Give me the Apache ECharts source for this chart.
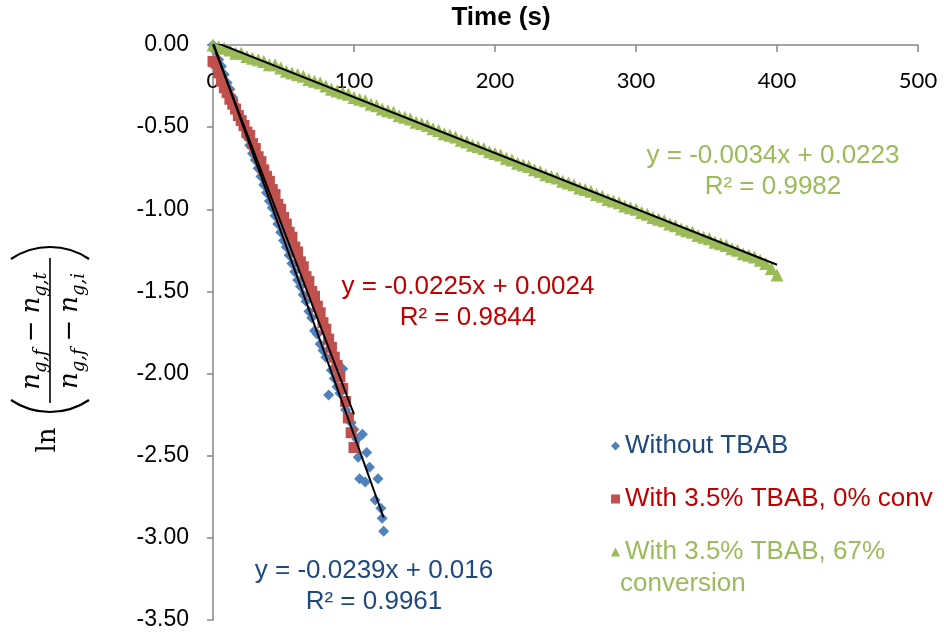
<!DOCTYPE html>
<html><head><meta charset="utf-8">
<script src="https://cdn.jsdelivr.net/npm/echarts@6/dist/echarts.min.js"></script>
<style>html,body{margin:0;padding:0;background:#fff}#c{width:944px;height:634px}</style>
</head><body><div id="c"></div><script>
const seriesNames = ['Without TBAB', 'With 3.5% TBAB, 0% conv', 'With 3.5% TBAB, 67% conversion'];

const blueTime = [0,2,4,6,8,10,12,14,16,18,20,22,24,26,28,30,32,34,36,38,40,42,44,46,48,50,52,54,56,58,60,62,64,66,68,70,72,74,76,78,80,82,84,86,88,90,92,94,96,98,100,102,103,104,106,108,109,111,115,117,119,120,121];
const blueValue = [0.00,-0.04,-0.09,-0.13,-0.18,-0.23,-0.27,-0.32,-0.37,-0.42,-0.46,-0.51,-0.56,-0.61,-0.66,-0.70,-0.75,-0.80,-0.85,-0.90,-0.95,-0.99,-1.04,-1.09,-1.14,-1.19,-1.23,-1.28,-1.33,-1.38,-1.43,-1.47,-1.52,-1.56,-1.62,-1.66,-1.74,-1.76,-1.82,-1.86,-1.90,-2.13,-1.98,-2.03,-2.08,-2.12,-1.97,-2.22,-2.25,-2.30,-2.34,-2.40,-2.51,-2.64,-2.37,-2.66,-2.48,-2.57,-2.77,-2.64,-2.82,-2.88,-2.96];

const redTime = [0,2,4,6,8,10,12,14,16,18,20,22,24,26,28,30,32,34,36,38,40,42,44,46,48,50,52,54,56,58,60,62,64,66,68,70,72,74,76,78,80,82,84,86,88,90,92,94,96,98,100];
const redValue = [-0.10,-0.11,-0.17,-0.22,-0.26,-0.29,-0.33,-0.36,-0.39,-0.43,-0.46,-0.49,-0.53,-0.55,-0.60,-0.63,-0.68,-0.71,-0.76,-0.80,-0.83,-0.88,-0.91,-0.97,-1.00,-1.05,-1.09,-1.14,-1.17,-1.23,-1.26,-1.32,-1.35,-1.41,-1.44,-1.50,-1.53,-1.59,-1.63,-1.69,-1.73,-1.79,-1.84,-1.90,-1.95,-2.02,-2.09,-2.17,-2.27,-2.36,-2.45];

const greenTime = [0,4,8,12,16,20,24,28,32,36,40,44,48,52,56,60,64,68,72,76,80,84,88,92,96,100,104,108,112,116,120,124,128,132,136,140,144,148,152,156,160,164,168,172,176,180,184,188,192,196,200,204,208,212,216,220,224,228,232,236,240,244,248,252,256,260,264,268,272,276,280,284,288,292,296,300,304,308,312,316,320,324,328,332,336,340,344,348,352,356,360,364,368,372,376,380,384,388,392,396,400];
const greenValue = [0.00,-0.01,-0.02,-0.03,-0.05,-0.05,-0.07,-0.08,-0.09,-0.10,-0.12,-0.12,-0.14,-0.16,-0.17,-0.18,-0.19,-0.21,-0.22,-0.23,-0.25,-0.27,-0.28,-0.29,-0.30,-0.32,-0.33,-0.34,-0.36,-0.37,-0.39,-0.40,-0.41,-0.43,-0.44,-0.45,-0.47,-0.48,-0.49,-0.51,-0.52,-0.54,-0.55,-0.56,-0.58,-0.59,-0.61,-0.62,-0.63,-0.65,-0.66,-0.67,-0.69,-0.70,-0.72,-0.73,-0.74,-0.76,-0.77,-0.79,-0.80,-0.81,-0.83,-0.84,-0.85,-0.87,-0.88,-0.89,-0.91,-0.92,-0.94,-0.95,-0.96,-0.98,-0.99,-1.00,-1.02,-1.03,-1.05,-1.06,-1.07,-1.09,-1.10,-1.12,-1.13,-1.14,-1.16,-1.17,-1.18,-1.20,-1.21,-1.22,-1.24,-1.25,-1.27,-1.28,-1.29,-1.31,-1.33,-1.36,-1.40];

const trendSlope = [-0.0239, -0.0225, -0.0034];
const trendIntercept = [0.016, 0.0024, 0.0223];
const equationTexts = ['y = -0.0239x + 0.016', 'y = -0.0225x + 0.0024', 'y = -0.0034x + 0.0223'];
const r2Texts = ['R² = 0.9961', 'R² = 0.9844', 'R² = 0.9982'];
const xTickLabels = ['0', '100', '200', '300', '400', '500'];
const yTickLabels = ['-3.50', '-3.00', '-2.50', '-2.00', '-1.50', '-1.00', '-0.50', '0.00'];

const markerColors = ['#4F81BD', '#C0504D', '#9BBB59'];
const textColors = ['#1F497D', '#C00000', '#9BBB59'];
const symbols = ['diamond', 'rect', 'triangle'];
const symbolSizes = [11, 11, 13];
const times = [blueTime, redTime, greenTime];
const values = [blueValue, redValue, greenValue];

function pairs(t, v) { return t.map((x, i) => [x, v[i]]); }
function trend(i) {
  const t = times[i];
  const x0 = Math.min(...t), x1 = Math.max(...t);
  return [[x0, trendSlope[i] * x0 + trendIntercept[i]], [x1, trendSlope[i] * x1 + trendIntercept[i]]];
}

const series = [];
for (let i = 0; i < 3; i++) {
  series.push({
    name: seriesNames[i], type: 'scatter', symbol: symbols[i], symbolSize: symbolSizes[i],
    itemStyle: { color: markerColors[i], opacity: 1 }, data: pairs(times[i], values[i]), z: 2 + i
  });
}
for (let i = 0; i < 3; i++) {
  series.push({
    name: 'trend' + i, type: 'line', data: trend(i), symbol: 'none', silent: true,
    lineStyle: { color: '#000', width: 2 }, z: 10
  });
}

const SANS = '"Liberation Sans", Arial, sans-serif';
const SERIF = '"DejaVu Serif", serif';
const eqPos = [[374, 586], [468, 302], [773, 171]];

const graphics = [
  { type: 'text', x: 501, y: 18, style: { text: 'Time (s)', font: 'bold 26px ' + SANS, fill: '#000', align: 'center', verticalAlign: 'middle' } },
  { type: 'text', x: 620, y: 584, style: { text: 'conversion', font: '26px ' + SANS, fill: textColors[2], align: 'left', verticalAlign: 'middle' } }
];
for (let i = 0; i < 3; i++) {
  graphics.push({ type: 'text', x: eqPos[i][0], y: eqPos[i][1], style: {
    text: equationTexts[i] + '\n' + r2Texts[i], font: '26px ' + SANS, lineHeight: 31,
    fill: textColors[i], align: 'center', verticalAlign: 'middle' } });
}
const richFrac = {
  n: { fontFamily: 'DejaVu Serif', fontStyle: 'italic', fontSize: 26, lineHeight: 36, fill: '#000', verticalAlign: 'middle' },
  s: { fontFamily: 'DejaVu Serif', fontStyle: 'italic', fontSize: 18, lineHeight: 24, fill: '#000', verticalAlign: 'bottom' },
  o: { fontFamily: 'DejaVu Serif', fontSize: 26, lineHeight: 36, fill: '#000', verticalAlign: 'middle', padding: [0, 7, 0, 7] }
};
const pr = 69.4, pa = 0.597;
graphics.push({
  type: 'group', x: 50, y: 345, rotation: Math.PI / 2,
  children: [
    { type: 'text', x: -95, y: -2, style: { text: 'ln', font: '26px ' + SERIF, fill: '#000', align: 'center', verticalAlign: 'middle' } },
    { type: 'arc', shape: { cx: -67 + pr, cy: 0, r: pr, startAngle: Math.PI - pa, endAngle: Math.PI + pa }, style: { stroke: '#000', lineWidth: 2.2, fill: null } },
    { type: 'arc', shape: { cx: 98 - pr, cy: 0, r: pr, startAngle: -pa, endAngle: pa }, style: { stroke: '#000', lineWidth: 2.2, fill: null } },
    { type: 'line', shape: { x1: -58, y1: 0, x2: 87, y2: 0 }, style: { stroke: '#000', lineWidth: 1.6 } },
    { type: 'text', x: 14, y: -18, style: { text: '{n|n}{s|g,f}{o|−}{n|n}{s|g,t}', rich: richFrac, align: 'center', verticalAlign: 'middle' } },
    { type: 'text', x: 14, y: 20, style: { text: '{n|n}{s|g,f}{o|−}{n|n}{s|g,i}', rich: richFrac, align: 'center', verticalAlign: 'middle' } }
  ]
});

const chart = echarts.init(document.getElementById('c'), null, { renderer: 'canvas' });
chart.setOption({
  animation: false,
  backgroundColor: '#fff',
  grid: { left: 213, right: 26, top: 45, bottom: 14, containLabel: false },
  xAxis: {
    type: 'value', position: 'top', min: 0, max: 500, interval: 100,
    axisLine: { show: true, onZero: false, lineStyle: { color: '#868686', width: 1.5 } },
    axisTick: { show: true, inside: true, length: 7, lineStyle: { color: '#868686', width: 1.5 } },
    axisLabel: { inside: true, margin: 25, color: '#000', fontFamily: 'Lato', fontSize: 22,
      formatter: (v) => xTickLabels[Math.round(v / 100)] },
    splitLine: { show: false }
  },
  yAxis: {
    type: 'value', min: -3.5, max: 0, interval: 0.5,
    axisLine: { show: true, onZero: false, lineStyle: { color: '#868686', width: 1.5 } },
    axisTick: { show: true, length: 6, lineStyle: { color: '#868686', width: 1.5 } },
    axisLabel: { margin: 24, color: '#000', fontFamily: 'Liberation Sans', fontSize: 23,
      formatter: (v) => yTickLabels[Math.round((v + 3.5) / 0.5)] },
    splitLine: { show: false }
  },
  legend: {
    orient: 'vertical', left: 606, top: 426, itemWidth: 9, itemHeight: 9, itemGap: 23,
    selectedMode: false,
    textStyle: { fontSize: 26, fontFamily: 'Liberation Sans', lineHeight: 30 },
    formatter: (name) => name === seriesNames[2] ? 'With 3.5% TBAB, 67%' : name,
    data: seriesNames.map((n, i) => ({ name: n, textStyle: { color: textColors[i] } }))
  },
  graphic: graphics,
  series: series
});
</script></body></html>
